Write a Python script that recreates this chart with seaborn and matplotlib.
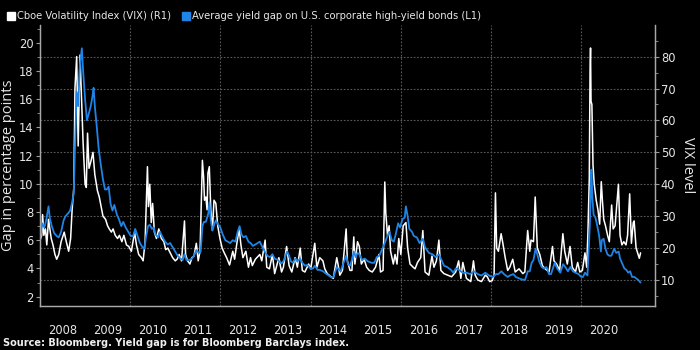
import matplotlib
matplotlib.use("Agg")
import matplotlib.pyplot as plt
import matplotlib.dates as mdates
from matplotlib.lines import Line2D
from matplotlib.ticker import MultipleLocator, FixedLocator, NullFormatter
import seaborn as sns
import pandas as pd

# ---------------- data ----------------
vix_dates = [
    "2008-01-02", "2008-01-15", "2008-01-22", "2008-02-01", "2008-02-14", "2008-02-25", "2008-03-10", "2008-03-17",
    "2008-04-01", "2008-04-15", "2008-05-01", "2008-05-15", "2008-06-01", "2008-06-20", "2008-07-15", "2008-08-01",
    "2008-08-20", "2008-09-05", "2008-09-17", "2008-10-01", "2008-10-10", "2008-10-24", "2008-11-05", "2008-11-20",
    "2008-12-01", "2008-12-15", "2008-12-31", "2009-01-10", "2009-01-20", "2009-02-01", "2009-02-15", "2009-03-05",
    "2009-03-20", "2009-04-10", "2009-04-25", "2009-05-10", "2009-05-25", "2009-06-15", "2009-07-01", "2009-07-15",
    "2009-08-01", "2009-08-15", "2009-09-01", "2009-09-20", "2009-10-05", "2009-10-25", "2009-11-10", "2009-12-01",
    "2009-12-20", "2010-01-10", "2010-02-05", "2010-02-20", "2010-03-10", "2010-04-01", "2010-04-15", "2010-05-01",
    "2010-05-20", "2010-05-28", "2010-06-08", "2010-06-20", "2010-07-01", "2010-07-15", "2010-08-01", "2010-08-20",
    "2010-09-10", "2010-09-30", "2010-10-15", "2010-11-01", "2010-11-20", "2010-12-10", "2010-12-31", "2011-01-15",
    "2011-02-01", "2011-02-20", "2011-03-16", "2011-03-25", "2011-04-10", "2011-04-29", "2011-05-15", "2011-06-01",
    "2011-06-20", "2011-07-05", "2011-07-20", "2011-08-08", "2011-08-18", "2011-08-25", "2011-09-05", "2011-09-15",
    "2011-09-22", "2011-10-03", "2011-10-15", "2011-10-28", "2011-11-10", "2011-11-25", "2011-12-10", "2011-12-28",
    "2012-01-15", "2012-02-01", "2012-02-20", "2012-03-15", "2012-04-10", "2012-04-25", "2012-05-15", "2012-06-01",
    "2012-06-15", "2012-07-01", "2012-07-25", "2012-08-15", "2012-09-01", "2012-09-15", "2012-10-10", "2012-11-15",
    "2012-12-01", "2012-12-28", "2013-01-10", "2013-02-01", "2013-02-25", "2013-03-15", "2013-04-18", "2013-05-10",
    "2013-05-25", "2013-06-20", "2013-07-10", "2013-08-01", "2013-08-28", "2013-09-15", "2013-10-08", "2013-10-25",
    "2013-11-15", "2013-12-15", "2014-01-01", "2014-02-03", "2014-02-20", "2014-03-15", "2014-04-10", "2014-04-25",
    "2014-05-15", "2014-06-15", "2014-07-03", "2014-07-31", "2014-08-10", "2014-08-25", "2014-09-15", "2014-10-15",
    "2014-10-25", "2014-11-15", "2014-12-01", "2014-12-16", "2014-12-25", "2015-01-15", "2015-01-30", "2015-02-15",
    "2015-03-10", "2015-03-30", "2015-04-20", "2015-05-15", "2015-06-10", "2015-07-08", "2015-07-20", "2015-08-10",
    "2015-08-24", "2015-09-01", "2015-09-15", "2015-09-28", "2015-10-10", "2015-11-01", "2015-11-15", "2015-12-01",
    "2015-12-15", "2016-01-01", "2016-01-20", "2016-02-11", "2016-02-25", "2016-03-15", "2016-04-10", "2016-04-25",
    "2016-05-15", "2016-06-10", "2016-06-27", "2016-07-15", "2016-08-15", "2016-09-09", "2016-09-25", "2016-10-15",
    "2016-11-04", "2016-11-20", "2016-12-15", "2017-01-15", "2017-02-15", "2017-03-20", "2017-04-13", "2017-05-01",
    "2017-05-17", "2017-06-15", "2017-07-20", "2017-08-11", "2017-08-25", "2017-09-15", "2017-10-15", "2017-11-15",
    "2017-12-01", "2017-12-20", "2018-01-10", "2018-01-25", "2018-02-05", "2018-02-15", "2018-03-01", "2018-03-23",
    "2018-04-06", "2018-04-25", "2018-05-15", "2018-06-01", "2018-06-25", "2018-07-15", "2018-08-15", "2018-09-15",
    "2018-10-01", "2018-10-24", "2018-11-10", "2018-11-20", "2018-12-10", "2018-12-24", "2019-01-10", "2019-01-30",
    "2019-02-20", "2019-03-15", "2019-04-15", "2019-05-13", "2019-05-25", "2019-06-15", "2019-07-10", "2019-08-05",
    "2019-08-20", "2019-09-10", "2019-10-02", "2019-10-20", "2019-11-15", "2019-12-03", "2019-12-20", "2020-01-10",
    "2020-01-31", "2020-02-14", "2020-02-24", "2020-03-06", "2020-03-12", "2020-03-16", "2020-03-20", "2020-03-27",
    "2020-04-05", "2020-04-15", "2020-05-01", "2020-05-15", "2020-05-29", "2020-06-11", "2020-06-20", "2020-07-01",
    "2020-07-15", "2020-08-01", "2020-08-15", "2020-09-03", "2020-09-15", "2020-10-01", "2020-10-28", "2020-11-10",
    "2020-11-25", "2020-12-10", "2020-12-28", "2021-01-10", "2021-01-27", "2021-02-10", "2021-02-25", "2021-03-04",
    "2021-03-20", "2021-04-01", "2021-04-15", "2021-04-25",
]
vix_values = [
    22.5, 24, 30.5, 24, 26, 21, 29, 27,
    23, 21, 18, 16.5, 18, 22, 25, 22,
    19, 23, 32, 39, 70, 80, 52, 80.5,
    68, 53, 40, 39, 56, 45, 47, 50,
    43, 38, 36, 33, 30, 29, 27, 26,
    25, 26, 24, 23, 24, 22, 24, 21,
    20.5, 19, 25, 21, 18, 17, 16, 22,
    45.5, 33, 40, 28, 34, 25, 23, 26,
    23, 22, 19.5, 20, 18.5, 17, 16, 16.5,
    18, 16, 28.5, 18, 16, 15, 17, 17.5,
    21.5, 16, 19, 47.5, 42, 35, 36, 32,
    43.5, 45.5, 32, 25.5, 35, 34, 27, 23,
    20, 18.5, 17, 14.7, 19, 16.5, 22, 26,
    21, 17, 19, 14, 17, 14.5, 16.5, 18,
    16, 22.5, 14, 13.5, 18, 12, 17, 12.5,
    14, 20.5, 14.5, 12.5, 17, 14, 20, 13,
    12.5, 15, 13.5, 21.5, 14, 17, 16, 13.5,
    12, 11, 10.5, 17, 15, 11.5, 13, 26,
    16, 13, 13, 23.5, 15, 22, 20.5, 15,
    16.5, 14, 13, 12.5, 14, 18, 12.5, 13,
    40.7, 31, 24, 27, 19, 15, 18, 15,
    23, 18, 27, 28, 20, 15, 14, 13.5,
    15.5, 17, 25.5, 12.5, 11.5, 17.5, 14, 16,
    22.5, 13, 12, 11.5, 11, 12.5, 16, 10.5,
    15.5, 10.5, 9.5, 16, 11.5, 10, 9.5, 11.5,
    11, 9.5, 9.8, 11.5, 37.3, 20, 19, 24.5,
    21.5, 17, 13, 14, 16.5, 12.5, 13.5, 12,
    12.5, 25.5, 19, 22.5, 22, 36, 20, 18,
    14.5, 13.5, 12.5, 20.5, 16, 15, 13, 24.5,
    19, 15, 20.5, 14, 12.5, 15.5, 12.5, 13,
    18.5, 14, 25, 42, 75, 82.7, 66, 65,
    46, 40, 35, 32, 27.5, 40.8, 35, 29,
    27, 24, 22, 33.5, 26, 27, 40, 24,
    21, 22, 21, 24, 37, 21.5, 28, 28.5,
    20, 18.5, 16.8, 18.5,
]

gap_dates = [
    "2008-01-02", "2008-01-20", "2008-02-05", "2008-02-20", "2008-03-10", "2008-03-20", "2008-04-05", "2008-04-25",
    "2008-05-15", "2008-06-01", "2008-06-20", "2008-07-10", "2008-07-25", "2008-08-15", "2008-09-01", "2008-09-15",
    "2008-09-30", "2008-10-10", "2008-10-24", "2008-11-05", "2008-11-20", "2008-12-05", "2008-12-15", "2008-12-31",
    "2009-01-15", "2009-01-31", "2009-02-15", "2009-03-01", "2009-03-10", "2009-03-20", "2009-04-05", "2009-04-20",
    "2009-05-05", "2009-05-25", "2009-06-10", "2009-06-25", "2009-07-10", "2009-07-25", "2009-08-10", "2009-08-25",
    "2009-09-15", "2009-10-01", "2009-10-20", "2009-11-05", "2009-11-25", "2009-12-15", "2010-01-05", "2010-01-25",
    "2010-02-10", "2010-03-01", "2010-03-20", "2010-04-10", "2010-04-25", "2010-05-10", "2010-05-25", "2010-06-08",
    "2010-06-25", "2010-07-10", "2010-07-25", "2010-08-15", "2010-08-30", "2010-09-20", "2010-10-10", "2010-10-30",
    "2010-11-20", "2010-12-10", "2010-12-31", "2011-01-20", "2011-02-10", "2011-03-01", "2011-03-16", "2011-04-01",
    "2011-04-25", "2011-05-15", "2011-06-01", "2011-06-20", "2011-07-10", "2011-07-25", "2011-08-08", "2011-08-20",
    "2011-09-05", "2011-09-25", "2011-10-04", "2011-10-15", "2011-10-28", "2011-11-15", "2011-11-25", "2011-12-15",
    "2011-12-31", "2012-01-20", "2012-02-10", "2012-03-01", "2012-03-20", "2012-04-10", "2012-05-01", "2012-05-20",
    "2012-06-04", "2012-06-20", "2012-07-05", "2012-07-25", "2012-08-15", "2012-09-01", "2012-09-20", "2012-10-10",
    "2012-11-15", "2012-12-01", "2012-12-31", "2013-01-15", "2013-02-05", "2013-02-25", "2013-03-15", "2013-04-10",
    "2013-05-09", "2013-05-25", "2013-06-24", "2013-07-10", "2013-07-25", "2013-08-10", "2013-08-30", "2013-09-15",
    "2013-10-08", "2013-10-25", "2013-11-15", "2013-12-05", "2013-12-31", "2014-01-20", "2014-02-04", "2014-02-25",
    "2014-03-15", "2014-04-10", "2014-05-10", "2014-06-20", "2014-07-05", "2014-07-31", "2014-08-15", "2014-09-01",
    "2014-09-20", "2014-10-15", "2014-10-30", "2014-11-15", "2014-12-01", "2014-12-16", "2014-12-31", "2015-01-15",
    "2015-01-31", "2015-02-20", "2015-03-15", "2015-04-10", "2015-05-10", "2015-05-31", "2015-06-20", "2015-07-10",
    "2015-07-31", "2015-08-24", "2015-09-10", "2015-09-30", "2015-10-20", "2015-11-05", "2015-11-20", "2015-12-10",
    "2015-12-25", "2016-01-15", "2016-02-01", "2016-02-11", "2016-02-25", "2016-03-10", "2016-03-31", "2016-04-15",
    "2016-05-10", "2016-05-31", "2016-06-27", "2016-07-15", "2016-08-15", "2016-09-15", "2016-10-10", "2016-11-04",
    "2016-11-25", "2016-12-15", "2017-01-10", "2017-02-10", "2017-03-01", "2017-03-20", "2017-04-15", "2017-05-15",
    "2017-06-15", "2017-07-15", "2017-08-15", "2017-09-15", "2017-10-15", "2017-11-15", "2017-12-15", "2018-01-15",
    "2018-02-10", "2018-03-01", "2018-03-25", "2018-04-15", "2018-05-15", "2018-06-01", "2018-06-30", "2018-07-20",
    "2018-08-15", "2018-09-15", "2018-10-03", "2018-10-25", "2018-11-10", "2018-11-25", "2018-12-10", "2018-12-27",
    "2019-01-10", "2019-01-25", "2019-02-15", "2019-03-05", "2019-03-25", "2019-04-15", "2019-05-01", "2019-05-31",
    "2019-06-20", "2019-07-15", "2019-08-07", "2019-08-25", "2019-09-15", "2019-10-04", "2019-10-25", "2019-11-15",
    "2019-12-10", "2019-12-31", "2020-01-15", "2020-01-31", "2020-02-20", "2020-02-28", "2020-03-10", "2020-03-23",
    "2020-03-31", "2020-04-10", "2020-04-25", "2020-05-10", "2020-05-25", "2020-06-08", "2020-06-15", "2020-06-30",
    "2020-07-15", "2020-07-31", "2020-08-15", "2020-09-01", "2020-09-24", "2020-10-10", "2020-10-30", "2020-11-10",
    "2020-11-30", "2020-12-15", "2020-12-31", "2021-01-15", "2021-01-31", "2021-02-15", "2021-03-05", "2021-03-20",
    "2021-04-05", "2021-04-25",
]
gap_values = [
    6.1, 7.2, 6.9, 7.4, 8.4, 7.6, 7.0, 6.5,
    6.3, 6.2, 6.6, 7.4, 7.7, 7.9, 8.1, 8.6,
    9.3, 12.5, 16.5, 15.5, 18.5, 19.6, 18.0, 16.0,
    14.5, 15.0, 15.5, 16.2, 16.8, 15.5, 14.0, 12.5,
    11.5, 10.3, 9.6, 9.6, 9.8, 8.6, 8.1, 8.5,
    7.8, 7.5, 7.0, 7.3, 6.9, 6.6, 6.3, 6.3,
    6.8, 6.3, 5.8, 5.5, 5.4, 6.3, 7.0, 7.1,
    6.8, 6.9, 6.4, 6.2, 6.6, 6.2, 5.9, 5.7,
    5.8, 5.5, 5.2, 4.9, 4.7, 4.6, 5.0, 4.6,
    4.6, 4.7, 4.9, 5.3, 5.1, 5.2, 7.0, 7.3,
    7.3, 7.9, 8.7, 7.4, 6.7, 7.2, 7.4, 7.1,
    6.9, 6.4, 6.0, 5.9, 5.8, 6.0, 5.9, 6.6,
    7.0, 6.4, 6.2, 6.3, 5.9, 5.8, 5.6, 5.7,
    5.9, 5.6, 5.1, 4.9, 4.8, 5.0, 4.7, 4.6,
    4.35, 4.5, 5.2, 4.9, 4.5, 4.4, 4.7, 4.5,
    4.7, 4.4, 4.2, 4.25, 4.0, 4.0, 4.2, 3.9,
    3.9, 3.8, 3.6, 3.35, 3.4, 4.1, 3.95, 3.8,
    4.3, 4.9, 4.3, 4.2, 4.6, 5.2, 4.8, 5.1,
    5.0, 4.6, 4.7, 4.5, 4.4, 4.4, 4.8, 4.9,
    5.3, 5.8, 6.2, 6.6, 6.0, 5.9, 6.4, 7.2,
    6.9, 7.5, 7.6, 8.4, 7.7, 6.8, 6.6, 6.3,
    6.2, 5.8, 6.1, 5.5, 5.1, 5.0, 4.8, 5.0,
    4.6, 4.2, 4.1, 3.9, 3.7, 4.0, 3.9, 3.7,
    3.7, 3.6, 3.8, 3.6, 3.5, 3.7, 3.5, 3.4,
    3.6, 3.6, 3.8, 3.6, 3.4, 3.5, 3.6, 3.4,
    3.3, 3.2, 3.2, 3.8, 3.8, 4.4, 4.6, 5.4,
    5.0, 4.5, 4.1, 4.0, 4.1, 3.6, 3.6, 4.4,
    4.0, 3.7, 4.3, 4.1, 3.8, 4.1, 3.8, 3.7,
    3.6, 3.4, 3.4, 3.7, 3.5, 5.0, 7.0, 11.0,
    9.0, 7.8, 7.6, 7.0, 6.3, 5.2, 6.0, 6.1,
    5.4, 5.0, 4.9, 4.9, 5.4, 5.1, 5.2, 4.7,
    4.3, 4.0, 3.9, 3.7, 3.8, 3.4, 3.4, 3.3,
    3.2, 3.0,
]

year_labels = [str(y) for y in range(2008, 2021)]
left_ticks = [2, 4, 6, 8, 10, 12, 14, 16, 18, 20]
right_ticks = [10, 20, 30, 40, 50, 60, 70, 80]

legend_vix = "Cboe Volatility Index (VIX) (R1)"
legend_gap = "Average yield gap on U.S. corporate high-yield bonds (L1)"
left_label = "Gap in percentage points"
right_label = "VIX level"
source_text = "Source: Bloomberg. Yield gap is for Bloomberg Barclays index."

# ---------------- frames ----------------
vix_df = pd.DataFrame({"date": pd.to_datetime(vix_dates), "value": vix_values})
gap_df = pd.DataFrame({"date": pd.to_datetime(gap_dates), "value": gap_values})

# ---------------- style ----------------
sns.set_theme(style="dark")
plt.rcParams.update({
    "figure.facecolor": "black",
    "axes.facecolor": "black",
    "savefig.facecolor": "black",
    "text.color": "#e6e6e6",
    "axes.labelcolor": "#e6e6e6",
    "xtick.color": "#9a9a9a",
    "ytick.color": "#9a9a9a",
    "xtick.labelcolor": "#e6e6e6",
    "ytick.labelcolor": "#e6e6e6",
})
plt.rcParams["font.family"] = ["DejaVu Sans"]

WHITE = "#ffffff"
BLUE = "#1f84e6"
GRID = "#5a5a5a"
SPINE = "#a8a8a8"

fig = plt.figure(figsize=(7, 3.5), dpi=100)
ax = fig.add_axes([40 / 700, 1 - 306 / 350, 614.5 / 700, 281 / 350])
ax2 = ax.twinx()

# VIX on right axis
sns.lineplot(data=vix_df, x="date", y="value", ax=ax2, color=WHITE, lw=1.1, legend=False)
# Gap on left axis
sns.lineplot(data=gap_df, x="date", y="value", ax=ax, color=BLUE, lw=1.3, legend=False)

# layering: blue on top
ax.set_zorder(ax2.get_zorder() + 1)
ax.patch.set_visible(False)
ax2.patch.set_facecolor("black")

# x axis
ax.set_xlim(pd.Timestamp("2008-01-01"), pd.Timestamp("2021-08-16"))
major = [pd.Timestamp(f"{y}-01-01") for y in range(2009, 2022)]
minor = [pd.Timestamp(f"{y}-07-02") for y in range(2008, 2021)]
ax.xaxis.set_major_locator(FixedLocator(mdates.date2num(major)))
ax.xaxis.set_major_formatter(NullFormatter())
ax.xaxis.set_minor_locator(FixedLocator(mdates.date2num(minor)))
ax.set_xticklabels(year_labels, minor=True)
ax.tick_params(axis="x", which="major", length=23, width=0.8, color="#8a8a8a", direction="out")
ax.tick_params(axis="x", which="minor", length=0, pad=13, labelsize=8.3, labelcolor="#e6e6e6")
ax.set_xlabel("")

# vertical dotted grid at even years
for y in range(2010, 2021, 2):
    ax2.axvline(pd.Timestamp(f"{y}-01-01"), color=GRID, lw=0.8, ls=(0, (1.5, 1.5)), zorder=0)

# left axis
ax.set_ylim(1.34, 21.25)
ax.set_yticks(left_ticks)
ax.yaxis.set_minor_locator(MultipleLocator(1))
ax.tick_params(axis="y", which="major", length=3, width=0.8, labelsize=8.3, pad=1.5, left=True)
ax.tick_params(axis="y", which="minor", length=2, width=0.6, left=True)
ax.set_ylabel(left_label, fontsize=10.5, family=["Open Sans", "DejaVu Sans"], labelpad=2)

# right axis
ax2.set_ylim(1.85, 89.9)
ax2.set_yticks(right_ticks)
ax2.yaxis.set_minor_locator(FixedLocator([5, 15, 25, 35, 45, 55, 65, 75, 85]))
ax2.tick_params(axis="y", which="major", length=3, width=0.8, labelsize=8.3, pad=1.5, right=True)
ax2.tick_params(axis="y", which="minor", length=2, width=0.6, right=True)
ax2.set_ylabel(right_label, fontsize=10.5, family=["Open Sans", "DejaVu Sans"], rotation=270, labelpad=14)
ax2.yaxis.grid(True, color=GRID, lw=0.8, ls=(0, (1.5, 1.5)))
ax2.xaxis.grid(False)
ax.grid(False)
ax2.set_xlabel("")

for a in (ax, ax2):
    a.spines["top"].set_visible(False)
    for s in ("left", "right", "bottom"):
        a.spines[s].set_visible(True)
        a.spines[s].set_color(SPINE)
        a.spines[s].set_linewidth(0.9)

# legend
handles = [
    Line2D([], [], marker="s", ls="none", color=WHITE, markersize=5.5),
    Line2D([], [], marker="s", ls="none", color=BLUE, markersize=5.5),
]
fig.legend(handles, [legend_vix, legend_gap], loc="upper left", bbox_to_anchor=(0.0, 0.99),
           ncol=2, frameon=False, fontsize=7.2, handlelength=0.6, handletextpad=0.35,
           columnspacing=1.2, borderaxespad=0.35, labelcolor="#e6e6e6")

fig.text(0.004, 0.019, source_text, fontsize=7, fontweight="bold", color="#f0f0f0",
         ha="left", va="center")

fig.savefig("out.png", dpi=100, facecolor="black")
